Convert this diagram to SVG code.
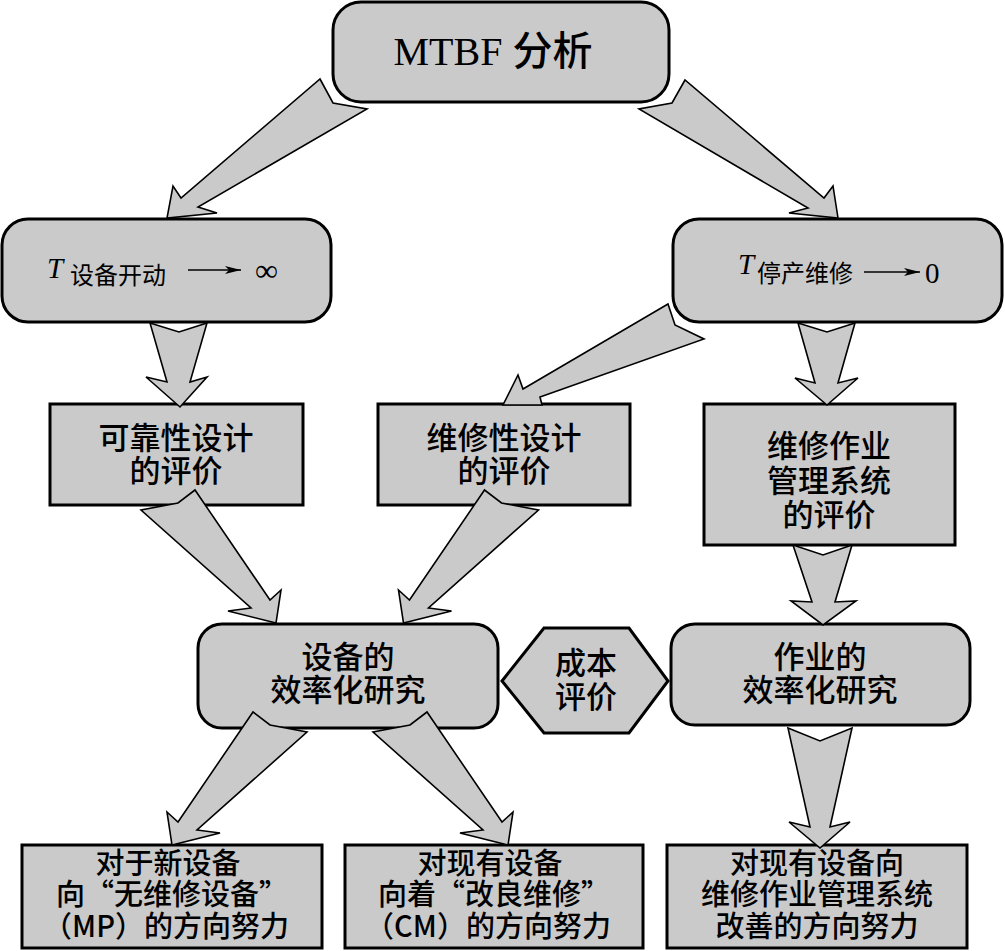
<svg xmlns="http://www.w3.org/2000/svg" width="1005" height="951" viewBox="0 0 1005 951">
<style>
.box{fill:#cacaca;stroke:#000;stroke-width:3}
.arr{fill:#cacaca;stroke:#000;stroke-width:1.6;stroke-linejoin:miter}
.cn{font-family:"Noto Sans CJK SC","Noto Sans",sans-serif;font-size:31px;font-weight:500;fill:#000;text-anchor:middle}
.cb{font-family:"Noto Sans CJK SC","Noto Sans",sans-serif;font-size:29px;font-weight:500;fill:#000;text-anchor:middle}
.cs{font-family:"Noto Sans CJK SC",sans-serif;font-size:24px;fill:#000}
.ser{font-family:"Liberation Serif","DejaVu Serif",serif;fill:#000}
</style>
<defs>
<marker id="ah" viewBox="0 0 16 8" refX="16" refY="4" markerWidth="16" markerHeight="8" markerUnits="userSpaceOnUse" orient="auto">
<path d="M0,0 L16,4 L0,8 L4,4 Z" fill="#000"/>
</marker>
</defs>
<rect width="1005" height="951" fill="#fff"/>
<g id="n-mtbf"><rect class="box" x="333" y="2" width="336" height="100" rx="28"/>
<text class="ser" x="493" y="65" font-size="40" text-anchor="middle">MTBF <tspan font-family="Noto Sans CJK SC, sans-serif" font-weight="500">分析</tspan></text></g>
<g id="n-t1"><rect class="box" x="2" y="219" width="329" height="103" rx="26"/>
<text class="ser" x="47" y="278" font-size="29" font-style="italic">T</text>
<text class="cs" x="70" y="284">设备开动</text>
<line x1="188" y1="270" x2="241" y2="270" stroke="#000" stroke-width="1.5" marker-end="url(#ah)"/>
<text class="ser" x="255" y="281" font-size="32">∞</text></g>
<g id="n-t2"><rect class="box" x="673" y="219" width="329" height="103" rx="26"/>
<text class="ser" x="738" y="274" font-size="29" font-style="italic">T</text>
<text class="cs" x="757" y="282">停产维修</text>
<line x1="864" y1="272" x2="920" y2="272" stroke="#000" stroke-width="1.5" marker-end="url(#ah)"/>
<text class="ser" x="925" y="283" font-size="29">0</text></g>
<g id="n-rel"><rect class="box" x="50" y="404" width="253" height="101"/>
<text class="cn" x="176" y="449">可靠性设计</text><text class="cn" x="176" y="482">的评价</text></g>
<g id="n-mnt"><rect class="box" x="378" y="404" width="252" height="101"/>
<text class="cn" x="504" y="449">维修性设计</text><text class="cn" x="504" y="482">的评价</text></g>
<g id="n-mgmt"><rect class="box" x="704" y="404" width="251" height="141"/>
<text class="cn" x="829" y="457">维修作业</text><text class="cn" x="829" y="492">管理系统</text><text class="cn" x="829" y="526">的评价</text></g>
<g id="n-eq"><rect class="box" x="198" y="624" width="300" height="104" rx="24"/>
<text class="cn" x="348" y="668">设备的</text><text class="cn" x="348" y="701">效率化研究</text></g>
<g id="n-cost"><polygon class="box" points="502,681 544,628 629,628 668,681 629,733 544,733"/>
<text class="cn" x="586" y="674">成本</text><text class="cn" x="586" y="708">评价</text></g>
<g id="n-op"><rect class="box" x="671" y="624" width="299" height="101" rx="24"/>
<text class="cn" x="820" y="668">作业的</text><text class="cn" x="820" y="701">效率化研究</text></g>
<g id="n-b1"><rect class="box" x="22" y="845" width="300" height="103"/>
<text class="cb" x="168" y="874">对于新设备</text><text class="cb" x="172" y="905">向“无维修设备”</text><text class="cb" x="166" y="937">（MP）的方向努力</text></g>
<g id="n-b2"><rect class="box" x="345" y="845" width="298" height="103"/>
<text class="cb" x="490" y="874">对现有设备</text><text class="cb" x="494" y="905">向着“改良维修”</text><text class="cb" x="488" y="937">（CM）的方向努力</text></g>
<g id="n-b3"><rect class="box" x="667" y="845" width="300" height="103"/>
<text class="cb" x="817" y="874">对现有设备向</text><text class="cb" x="817" y="905">维修作业管理系统</text><text class="cb" x="817" y="937">改善的方向努力</text></g>
<g id="connectors">
<polygon class="arr" points="320,79 333,103 367,109 198,207 217,213 167,218 173,186 181,198"/>
<polygon class="arr" points="685,80 672,103 639,109 808,208 789,213 838,218 833,186 824,198"/>
<polygon class="arr" points="150,323 179,332 207,323 190,382 207,377 180,407 146,377 167,382"/>
<polygon class="arr" points="798,323 827,332 855,323 838,383 858,378 827,405 795,378 815,383"/>
<polygon class="arr" points="668,304 675,325 704,339 540,397 542,405 503,405 518,375 523,389"/>
<polygon class="arr" points="195,490 178,503 141,510 251,608 228,611 276,623 281,590 270,600"/>
<polygon class="arr" points="484.5,490 501.5,503 538.5,510 428.5,608 451.5,611 403.5,623 398.5,590 409.5,600"/>
<polygon class="arr" points="793,545 823,555 852,545 835,602 856,601 823,625 791,601 812,602"/>
<polygon class="arr" points="253,712 270,725 307,732 197,830 220,833 172,845 167,812 178,822"/>
<polygon class="arr" points="427,712 410,725 373,732 483,830 460,833 508,845 513,812 502,822"/>
<polygon class="arr" points="788,728 820,741 852,728 830,827 850,822 820,848 789,822 810,827"/>
</g>
</svg>
